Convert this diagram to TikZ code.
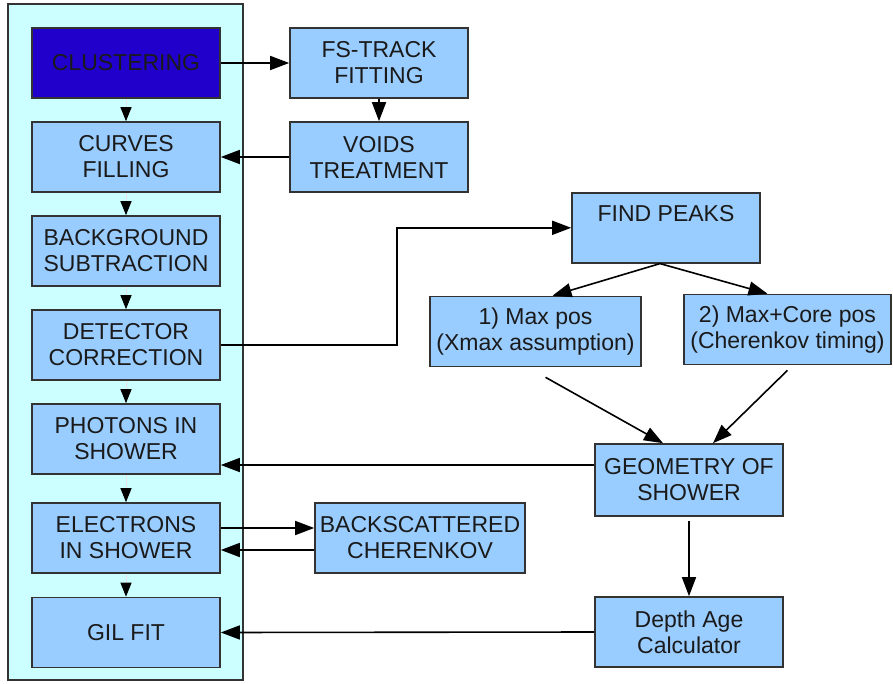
\documentclass[tikz,border=0pt]{standalone}
\usepackage{fontspec}
\setmainfont{Liberation Sans}
\usepackage{xcolor}
\usetikzlibrary{arrows.meta,positioning,calc}

\definecolor{panelcyan}{HTML}{CCFFFF}
\definecolor{boxblue}{HTML}{99CCFF}
\definecolor{clusterblue}{HTML}{2200CC}
\definecolor{edgegray}{HTML}{333333}
\definecolor{txtgray}{HTML}{1A1A1A}

\tikzset{
    stage/.style={draw=edgegray, line width=1.6pt, fill=boxblue, minimum width=188pt,
        minimum height=70pt, align=center, text=txtgray, inner sep=0pt,
        font=\fontsize{23}{26}\selectfont},
    flow/.style={-{Triangle[length=19pt,width=14pt]}, line width=1.6pt, draw=black},
    chain/.style={-{Triangle[length=14pt,width=11pt,color=black]}, line width=1pt, draw=black!10}
}

\begin{document}
\begin{tikzpicture}[x=1pt,y=-1pt]
    \useasboundingbox (0,0) rectangle (893,684);
    % Panel
    \node (panel) [draw=edgegray, line width=1.4pt, fill=panelcyan, minimum width=235pt,
        minimum height=676pt, inner sep=0pt] at (125.5,342) {};

    % Left column
    \node (clustering) [stage, fill=clusterblue] at (126,63) {CLUSTERING};
    \node (curves) [stage] at (126,157) {CURVES\\FILLING};
    \node (background) [stage] at (126,251) {BACKGROUND\\SUBTRACTION};
    \node (detector) [stage] at (126,345) {DETECTOR\\CORRECTION};
    \node (photons) [stage] at (126,439) {PHOTONS IN\\SHOWER};
    \node (electrons) [stage] at (126,538) {ELECTRONS\\IN SHOWER};
    \node (gilfit) [stage] at (126,632.5) {GIL FIT};

    % Right side
    \node (fstrack) [stage, minimum width=178pt] at (379,63) {FS-TRACK\\FITTING};
    \node (voids) [stage, minimum width=178pt] at (379,157) {VOIDS\\TREATMENT};
    \node (findpeaks) [stage, minimum height=0pt, text height=29pt, text depth=41pt]
        at (666,192) [anchor=north] {FIND PEAKS};
    \node (maxpos) [stage, minimum width=211pt] at (535.5,331.5) {1) Max pos\\(Xmax assumption)};
    \node (maxcore) [stage, minimum width=207pt] at (787.5,329.5) {2) Max+Core pos\\(Cherenkov timing)};
    \node (geometry) [stage, minimum height=72pt] at (689,480) {GEOMETRY OF\\SHOWER};
    \node (depth) [stage] at (689,632) {Depth Age\\Calculator};
    \node (backscat) [stage, minimum width=210pt] at (420,538) {BACKSCATTERED\\CHERENKOV};

    % Column chain
    \draw[chain] (clustering) -- (curves);
    \draw[chain] (curves) -- (background);
    \draw[chain] (background) -- (detector);
    \draw[chain] (detector) -- (photons);
    \draw[chain] (photons) -- (electrons);
    \draw[chain] (electrons) -- (gilfit);

    % Port points
    \coordinate (geo out) at ([yshift=15pt]geometry.west);
    \coordinate (ele out) at ([yshift=10pt]electrons.east);
    \coordinate (back out) at ([yshift=-12pt]backscat.west);

    % Connectors
    \draw[flow] (clustering.east) -- (fstrack.west);
    \draw[flow] (fstrack.south) -- (voids.north);
    \draw[flow] (voids.west) -- (curves.east);
    \draw[flow] (detector.east) -- ++(176,0) |- (findpeaks.west);
    \draw[flow] ([xshift=-6pt]findpeaks.south) -- ([xshift=17pt]maxpos.north);
    \draw[flow] ([xshift=-6pt]findpeaks.south) -- ([xshift=-20pt]maxcore.north);
    \draw[flow] ([xshift=10pt,yshift=-10pt]maxpos.south) -- ([xshift=-26pt]geometry.north);
    \draw[flow] ([yshift=-5pt]maxcore.south) -- ([xshift=24pt]geometry.north);
    \draw[flow] ([yshift=-4pt]geometry.south) -- (depth.north);
    \draw[flow] (geo out) -- (photons.east |- geo out);
    \draw[flow] (depth.west) -- (gilfit.east);
    \draw[flow] (ele out) -- (backscat.west |- ele out);
    \draw[flow] (back out) -- (electrons.east |- back out);
\end{tikzpicture}
\end{document}
